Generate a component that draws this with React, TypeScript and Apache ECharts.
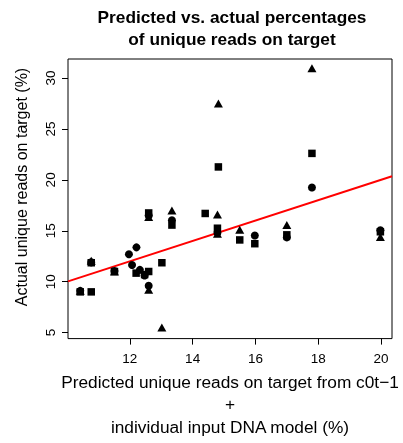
import React, { useEffect, useRef } from "react";
import * as echarts from "echarts";

const circles: [number, number][] = [
  [10.42, 9.1], [10.77, 11.9], [11.51, 11.05], [11.97, 12.7], [12.21, 13.37],
  [12.07, 11.64], [12.32, 11.16], [12.47, 10.6], [12.6, 9.6], [12.6, 16.5],
  [13.34, 16.04], [14.79, 14.8], [15.98, 14.53], [17.0, 14.35], [17.8, 19.25],
  [19.98, 15.05],
];
const squares: [number, number][] = [
  [10.42, 9.0], [10.77, 9.0], [10.77, 11.86], [11.51, 11.0], [12.2, 10.84],
  [12.47, 10.7], [12.6, 11.0], [12.6, 16.75], [13.02, 11.86], [13.34, 15.56],
  [14.4, 16.7], [14.79, 15.25], [14.82, 21.27], [15.5, 14.1], [15.98, 13.73],
  [17.0, 14.6], [17.8, 22.6], [19.98, 14.9],
];
const triangles: [number, number][] = [
  [10.42, 9.1], [10.77, 12.05], [11.51, 11.0], [12.6, 9.2], [12.6, 16.35],
  [13.02, 5.5], [13.34, 17.0], [14.79, 16.6], [14.82, 27.5], [14.79, 14.7],
  [15.5, 15.1], [17.0, 15.56], [17.8, 30.97], [19.98, 14.4],
];
const lineX = [10.03, 20.35];
const lineY = [10.03, 20.35];
const xTicks = [12, 14, 16, 18, 20];
const yTicks = [5, 10, 15, 20, 25, 30];

const FONT = "'Liberation Sans', Arial, Helvetica, sans-serif";

export default function App() {
  const ref = useRef<HTMLDivElement>(null);
  useEffect(() => {
    if (!ref.current) return;
    const chart = echarts.init(ref.current, null, { renderer: "svg" });
    const markerBase = { type: "scatter", itemStyle: { color: "#000", opacity: 1 }, z: 3 };
    chart.setOption({
      animation: false,
      textStyle: { fontFamily: FONT },
      title: {
        text: "Predicted vs. actual percentages\nof unique reads on target",
        left: 227,
        top: 1,
        textAlign: "center",
        textStyle: { fontFamily: FONT, fontSize: 17.3, fontWeight: "bold", color: "#000", lineHeight: 22 },
      },
      grid: {
        left: 68, right: 11, top: 59, bottom: 99,
        show: true, borderColor: "#000", borderWidth: 1, backgroundColor: "transparent",
      },
      xAxis: {
        type: "value",
        min: 10.03,
        max: 20.35,
        splitLine: { show: false },
        axisLine: { show: false },
        axisTick: { show: true, length: 6, inside: false, customValues: xTicks, lineStyle: { color: "#000" } },
        axisLabel: { customValues: xTicks, color: "#000", fontSize: 13.5, margin: 13, fontFamily: FONT },
        name: "Predicted unique reads on target from c0t\u22121\n+\nindividual input DNA model (%)",
        nameLocation: "middle",
        nameGap: 29,
        nameTextStyle: { fontFamily: FONT, fontSize: 17.3, color: "#000", lineHeight: 22.5 },
      },
      yAxis: {
        type: "value",
        min: 4.41,
        max: 31.87,
        splitLine: { show: false },
        axisLine: { show: false },
        axisTick: { show: true, length: 6, customValues: yTicks, lineStyle: { color: "#000" } },
        axisLabel: { show: false, customValues: yTicks },
      },
      series: [
        {
          type: "line",
          data: lineX.map((x, i) => [x, lineY[i]]),
          symbol: "none",
          lineStyle: { color: "#ff0000", width: 2 },
          z: 2,
        },
        { ...markerBase, data: circles, symbol: "circle", symbolSize: 8 },
        { ...markerBase, data: squares, symbol: "rect", symbolSize: 7.5 },
        { ...markerBase, data: triangles, symbol: "triangle", symbolSize: [9, 8] },
      ],
    });
    const yLabelEls = yTicks.map((v) => {
      const py = chart.convertToPixel({ yAxisIndex: 0 }, v) as number;
      return {
        type: "text",
        x: 50,
        y: py,
        rotation: Math.PI / 2,
        style: {
          text: String(v),
          fontFamily: FONT,
          fontSize: 13.5,
          fill: "#000",
          textAlign: "center",
          textVerticalAlign: "middle",
        },
      };
    });
    chart.setOption({
      graphic: [
        ...yLabelEls,
        {
          type: "text",
          x: 21,
          y: 187,
          rotation: Math.PI / 2,
          style: {
            text: "Actual unique reads on target (%)",
            fontFamily: FONT,
            fontSize: 16,
            fill: "#000",
            textAlign: "center",
            textVerticalAlign: "middle",
          },
        },
      ],
    });
    return () => chart.dispose();
  }, []);
  return <div ref={ref} style={{ position: "fixed", left: 0, top: 0, width: 403, height: 443 }} />;
}
